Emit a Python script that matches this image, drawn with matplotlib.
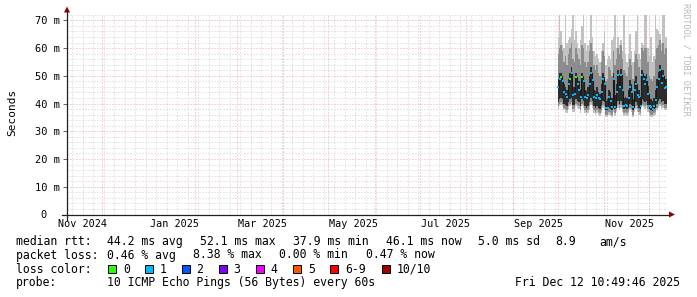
import datetime as dt
import numpy as np
import matplotlib
matplotlib.use('Agg')
import matplotlib.pyplot as plt
import matplotlib.dates as mdates
from matplotlib.lines import Line2D
from matplotlib.patches import Rectangle, Polygon

plt.rcParams['font.family'] = ['DejaVu Sans Mono']

# graph window: 400 days up to the time stamp
t_end = dt.datetime(2025, 12, 12, 10, 49, 46)
t_start = t_end - dt.timedelta(days=400)

# daily values (ms), first value is Oct 1 2025
first_day = dt.datetime(2025, 10, 1)

ping_min = [38, 39, 39.5, 39, 37.5, 37, 36.5, 38, 39, 39.5, 37, 37, 39, 38.5, 38, 36.5, 39, 38.5, 36.5, 36,
            36.5, 38, 39.5, 38.5, 36.5, 36, 36.5, 36, 35.5, 36.5, 38.5, 38,
            35, 35, 36, 35.5, 35, 37, 35.5, 37, 38.5, 37.5, 38.5, 37, 35.5, 36, 35.5, 36, 37.5, 37,
            35, 37, 38, 37, 36, 35.5, 39, 38.5, 38, 38.5, 37, 35.5, 35, 35, 35.5, 36, 37.5, 38.5, 39, 38,
            38.5, 37.5, 37.5]
ping_lo2 = [39, 40, 40.5, 40, 38.5, 38, 37.5, 39, 40, 40.5, 38, 38, 40, 39.5, 39, 37.5, 40, 39.5, 37.5, 37,
            37.5, 39, 40.5, 39.5, 37.5, 37, 37.5, 37, 36.5, 37.5, 39.5, 39,
            36, 36, 37, 36.5, 36, 38, 36.5, 38, 39.5, 38.5, 39.5, 38, 36.5, 37, 36.5, 37, 38.5, 38,
            36, 38, 39, 38, 37, 36.5, 40, 39.5, 39, 39.5, 38, 36.5, 36, 36, 36.5, 37, 38.5, 39.5, 40, 39,
            39.5, 38.5, 38.5]
ping_lo3 = [40.5, 41.5, 42, 41.5, 40, 39.5, 39, 40.5, 41.5, 42, 39.5, 39.5, 41.5, 41, 40.5, 39, 41.5, 41, 39, 38.5,
            39, 40.5, 42, 41, 39, 38.5, 39, 38.5, 38, 39, 41, 40.5,
            37.5, 37.5, 38.5, 38, 37.5, 39.5, 38, 39.5, 41, 40, 41, 39.5, 38, 38.5, 38, 38.5, 40, 39.5,
            37.5, 39.5, 40.5, 39.5, 38.5, 38, 41.5, 41, 40.5, 41, 39.5, 38, 37.5, 37.2, 38, 38.5, 40, 41, 41.5, 40.5,
            41, 40, 40]
median = [46, 49, 49.5, 48, 44, 43.5, 42.5, 47, 49, 51, 43, 43.5, 49.5, 47, 45, 42.5, 49.5, 48, 42.5, 42,
          43, 47, 51, 48.5, 42.5, 42, 43, 42, 41.5, 44, 49, 47,
          38.5, 38.5, 42.5, 41, 38.6, 49, 38.8, 44, 50.4, 46, 50.4, 45, 39, 39.5, 39, 42, 46, 44,
          38.6, 45, 47, 43, 42.5, 39, 50.4, 49, 47, 48.5, 43.5, 39, 38.6, 37.9, 39, 41.4, 46, 49, 52, 47.5,
          49.8, 45.6, 46.1]
ping_hi3 = [49, 51, 51, 50, 47, 46, 45, 49, 51, 53, 46, 46, 51, 49.5, 48, 45, 51, 50, 45, 44.5,
            46, 50, 53, 50.5, 45, 44.5, 46, 44, 43.5, 47, 51, 49.5,
            41, 41.5, 45, 44, 42, 51, 43, 47, 52, 49, 52.5, 48, 42, 42.5, 42, 45, 48.5, 47,
            41.5, 48, 50, 47, 45, 42, 52, 51, 50, 50.5, 46.5, 42, 41.5, 41, 42, 45, 49, 51.5, 54, 50.5,
            52, 48.5, 49]
ping_hi2 = [58, 60, 61, 59, 55, 57, 54, 58, 60, 62, 56, 55, 60, 58, 56, 54, 61, 60, 55, 53,
            55, 59, 62, 59, 54, 52, 54, 51, 50, 55, 59, 57,
            48, 49, 53, 52, 50, 59, 54, 56, 60, 58, 61, 56, 52, 51, 50, 53, 56, 54,
            49, 55, 58, 56, 53, 50, 60, 59, 60, 60, 55, 50, 49, 48, 50, 56, 60, 61, 63, 59,
            62, 58, 60]
ping_max = [64, 72, 66, 61, 60, 72, 62, 63, 64, 67, 72, 63, 66, 62, 60, 63, 68, 72, 62, 59,
            61, 63, 72, 64, 59, 57, 58, 56, 55, 59, 62, 66,
            54, 56, 57, 56, 63, 64, 72, 60, 64, 61, 63, 59, 72, 58, 55, 58, 65, 59,
            55, 59, 66, 72, 58, 56, 62, 61, 72, 72, 60, 57, 64, 55, 57, 72, 67, 66, 65, 62,
            72, 72, 64]
# lost pings per day (bucket)
loss = [1, 1, 0, 1, 1, 1, 1, 1, 0, 1, 1, 1, 0, 1, 1, 1, 0, 1, 1, 1,
        1, 1, 1, 1, 1, 1, 1, 1, 1, 1, 1, 1, 1, 1, 1, 1, 1, 1, 1, 1,
        1, 1, 1, 1, 1, 1, 1, 1, 1, 1, 1, 1, 1, 1, 1, 1, 1, 1, 1, 1,
        1, 1, 1, 1, 1, 1, 1, 1, 1, 1, 1, 1, 1]

loss_labels = ['0', '1', '2', '3', '4', '5', '6-9', '10/10']
loss_colors = ['#26ff00', '#00b8ff', '#0059ff', '#7e00ff', '#ee00ff', '#ff5500', '#ff0000', '#a10000']

xtick_labels = ['Nov 2024', 'Jan 2025', 'Mar 2025', 'May 2025', 'Jul 2025', 'Sep 2025', 'Nov 2025']
yticks = [0, 10, 20, 30, 40, 50, 60, 70]

rtt_stats = ['44.2 ms avg', '52.1 ms max', '37.9 ms min', '46.1 ms now', '5.0 ms sd', '8.9', 'am/s']
loss_stats = ['0.46 % avg', '8.38 % max', '0.00 % min', '0.47 % now']
probe_text = '10 ICMP Echo Pings (56 Bytes) every 60s'
stamp = 'Fri Dec 12 10:49:46 2025'

W, H = 697, 297
def fx(px):
    return px / W
def fy(py):
    return 1 - py / H

fig = plt.figure(figsize=(W / 100, H / 100), dpi=100)
ax = fig.add_axes([fx(67), fy(214.5), 599 / W, 200 / H])
ax.set_xlim(mdates.date2num(t_start), mdates.date2num(t_end))
ax.set_ylim(0, 72.1)
for s in ax.spines.values():
    s.set_visible(False)

# grid: weekly (mondays) + 2 ms minor, months + 10 ms major
grid_kw = dict(lw=0.72, ls=(0, (1, 2)), zorder=1)
d = t_start.date()
while d <= t_end.date():
    if d.weekday() == 0:
        ax.axvline(mdates.date2num(d), color='#d0d0d0', **grid_kw)
    d += dt.timedelta(days=1)
for v in range(2, 73, 2):
    if v % 10:
        ax.axhline(v, color='#d0d0d0', **grid_kw)
m = dt.date(2024, 12, 1)
while m <= t_end.date():
    if m.month != 1:
        ax.axvline(mdates.date2num(m), color='#f0a8a8', **grid_kw)
    m = dt.date(m.year + (m.month == 12), m.month % 12 + 1, 1)
for v in yticks[1:]:
    ax.axhline(v, color='#f0a8a8', **grid_kw)

# smoke
days = [first_day + dt.timedelta(days=i) for i in range(len(median))]
x = mdates.date2num(days + [days[-1] + dt.timedelta(days=1)])
def ext(a):
    return np.append(a, a[-1])
ax.fill_between(x, ext(ping_min), ext(ping_max), step='post', color='#c2c2c2', lw=0, zorder=2)
ax.fill_between(x, ext(ping_lo2), ext(ping_hi2), step='post', color='#8c8c8c', lw=0, zorder=2)
ax.fill_between(x, ext(ping_lo3), ext(ping_hi3), step='post', color='#2c2c2c', lw=0, zorder=2)

# median, coloured by loss
ax.plot(x, ext(median), drawstyle='steps-post', color='#1a1a1a', lw=0.8, zorder=3)
xm = mdates.date2num(days) + 0.5
med = np.array(median)
ls = np.array(loss)
for b in sorted(set(loss)):
    ax.plot(xm[ls == b], med[ls == b], 's', ms=1.8, mew=0, color=loss_colors[b], zorder=4)

# axes with arrows
ax.add_line(Line2D([-5 / 599, 1 + 3 / 599], [0, 0], transform=ax.transAxes, color='#202020',
                   lw=0.9, clip_on=False, zorder=5))
ax.add_line(Line2D([0, 0], [-5 / 200, 1 + 3 / 200], transform=ax.transAxes, color='#202020',
                   lw=0.9, clip_on=False, zorder=5))
fig.add_artist(Polygon([[fx(669), fy(211.5)], [fx(675), fy(214.5)], [fx(669), fy(217.5)]],
                       closed=True, color='#8b0000', lw=0))
fig.add_artist(Polygon([[fx(64), fy(12.5)], [fx(67), fy(6.5)], [fx(70), fy(12.5)]],
                       closed=True, color='#8b0000', lw=0))

# ticks
ax.set_yticks(yticks)
ax.set_yticklabels(['0  '] + ['%d m' % v for v in yticks[1:]])
xt = [dt.datetime.strptime(l, '%b %Y') + dt.timedelta(days=17) for l in xtick_labels]
ax.set_xticks(mdates.date2num(xt))
ax.set_xticklabels(xtick_labels)
ax.tick_params(axis='y', length=3, width=0.7, color='#666666', pad=2, labelsize=7.5)
ax.tick_params(axis='x', length=0, pad=3.5, labelsize=7.3)
ax.set_ylabel('Seconds', fontsize=8)
ax.yaxis.set_label_coords(-50 / 599, 0.51)

fig.text(fx(686), fy(59), 'RRDTOOL / TOBI OETIKER', rotation=270, fontsize=6.1,
         color='#b8b8b8', ha='center', va='center')

# legend rows
fs = 8.3
rows = [241.7, 255, 269.3, 282.7]
fig.text(fx(16), fy(rows[0]), 'median rtt:', fontsize=fs, va='center')
for xp, s in zip([107.3, 200.3, 293.3, 385.7, 478.3, 555, 599.3], rtt_stats):
    fig.text(fx(xp), fy(rows[0]), s, fontsize=fs, va='center')
fig.text(fx(16), fy(rows[1]), 'packet loss:', fontsize=fs, va='center')
for xp, s in zip([107.3, 193.1, 279.3, 365.7], loss_stats):
    fig.text(fx(xp), fy(rows[1]), s, fontsize=fs, va='center')
fig.text(fx(16), fy(rows[2]), 'loss color:', fontsize=fs, va='center')
for xp, lab, c in zip([108.3, 145.3, 182.0, 219.0, 256.0, 293.3, 330.3, 382.2], loss_labels, loss_colors):
    fig.add_artist(Rectangle((fx(xp), fy(rows[2] + 4)), 8 / W, 8 / H, facecolor=c,
                             edgecolor='black', lw=0.7))
    fig.text(fx(xp + 14.5), fy(rows[2]), lab, fontsize=fs, va='center')
fig.text(fx(16), fy(rows[3]), 'probe:', fontsize=fs, va='center')
fig.text(fx(107.3), fy(rows[3]), probe_text, fontsize=fs, va='center')
fig.text(fx(680), fy(rows[3]), stamp, fontsize=fs, va='center', ha='right')

fig.savefig('out.png', dpi=100, facecolor='white')
